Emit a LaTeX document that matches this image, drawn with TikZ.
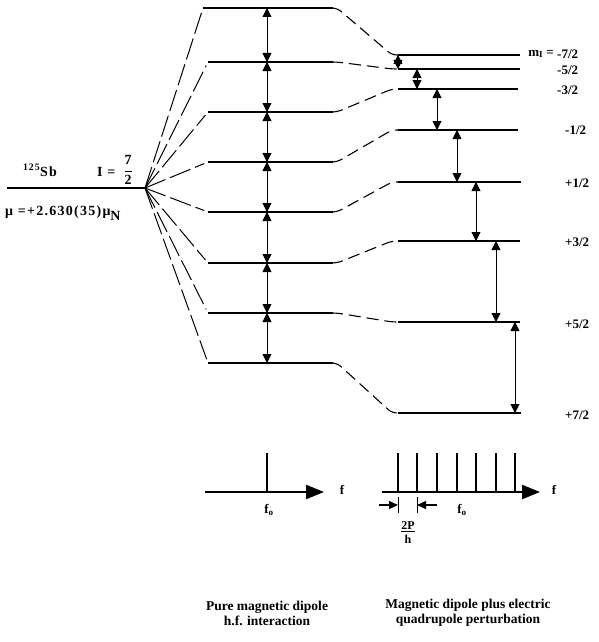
\documentclass[tikz,border=0pt]{standalone}
\usepackage{fontspec}
\setmainfont{Liberation Serif}
\newfontfamily\spaced[LetterSpace=9]{Liberation Serif}
\usetikzlibrary{arrows.meta}

\begin{document}
\begin{tikzpicture}[x=1pt, y=-1pt,
    lvl/.style={line width=2pt},
    fanLine/.style={line width=1pt, dash pattern=on 22pt off 5pt, shorten >=4pt},
    link/.style={line width=1.1pt, dash pattern=on 12pt off 6pt, rounded corners=5pt},
    trans/.style={line width=0.9pt, {Triangle[length=9pt,width=9pt]}-{Triangle[length=9pt,width=9pt]}},
    freqAxis/.style={line width=2.4pt, -{Triangle[length=18pt,width=14pt]}},
    peak/.style={line width=1.4pt},
    dimArrow/.style={line width=1.1pt, -{Triangle[length=9pt,width=8pt]}},
    lblM/.style={font=\fontsize{13}{13}\selectfont\bfseries, anchor=west, inner sep=0pt},
    lblF/.style={font=\fontsize{13}{13}\selectfont\bfseries, inner sep=0pt},
    lblNuc/.style={font=\fontsize{14}{14}\selectfont\spaced\bfseries, anchor=base west, inner sep=0pt},
    caption/.style={font=\fontsize{13.5}{15}\selectfont\bfseries, align=center}
  ]
  \useasboundingbox (0,0) rectangle (599,642);

  % --- free nucleus level ---
  \coordinate (i0) at (7,188);
  \coordinate (i1) at (145,188);
  \draw[lvl] (i0) -- (i1);
  \node[lblNuc] (nucl) at (23,176) {\textsuperscript{125}Sb};
  \node[lblNuc] (spin) at (97,176) {I =};
  \node[lblNuc, anchor=center] (spinVal) at (128,170) {$\displaystyle\frac{\mbox{7}}{\mbox{2}}$};
  \node[lblNuc] (moment) at (5,215) {μ =+2.630(35)μ\raisebox{-5pt}{N}};

  % --- pure magnetic dipole levels ---
  \coordinate (p1w) at (203,8);   \coordinate (p1e) at (333,8);
  \coordinate (p2w) at (208,62);  \coordinate (p2e) at (333,62);
  \coordinate (p3w) at (208,112); \coordinate (p3e) at (333,112);
  \coordinate (p4w) at (208,162); \coordinate (p4e) at (333,162);
  \coordinate (p5w) at (208,212); \coordinate (p5e) at (333,212);
  \coordinate (p6w) at (208,263); \coordinate (p6e) at (333,263);
  \coordinate (p7w) at (208,313); \coordinate (p7e) at (333,313);
  \coordinate (p8w) at (208,363); \coordinate (p8e) at (333,363);
  \draw[lvl] (p1w) -- (p1e);
  \draw[lvl] (p2w) -- (p2e);
  \draw[lvl] (p3w) -- (p3e);
  \draw[lvl] (p4w) -- (p4e);
  \draw[lvl] (p5w) -- (p5e);
  \draw[lvl] (p6w) -- (p6e);
  \draw[lvl] (p7w) -- (p7e);
  \draw[lvl] (p8w) -- (p8e);
  \draw[fanLine] (i1) -- (p1w);
  \draw[fanLine] (i1) -- (p2w);
  \draw[fanLine] (i1) -- (p3w);
  \draw[fanLine] (i1) -- (p4w);
  \draw[fanLine] (i1) -- (p5w);
  \draw[fanLine] (i1) -- (p6w);
  \draw[fanLine] (i1) -- (p7w);
  \draw[fanLine] (i1) -- (p8w);

  % --- quadrupole perturbed levels ---
  \coordinate (q1w) at (398,55);  \coordinate (q1e) at (520,55);
  \coordinate (q2w) at (398,69);  \coordinate (q2e) at (520,69);
  \coordinate (q3w) at (398,89);  \coordinate (q3e) at (518,89);
  \coordinate (q4w) at (398,130); \coordinate (q4e) at (518,130);
  \coordinate (q5w) at (398,182); \coordinate (q5e) at (521,182);
  \coordinate (q6w) at (398,241); \coordinate (q6e) at (520,241);
  \coordinate (q7w) at (398,322); \coordinate (q7e) at (520,322);
  \coordinate (q8w) at (398,413); \coordinate (q8e) at (521,413);
  \draw[lvl] (q1w) -- (q1e);
  \draw[lvl] (q2w) -- (q2e);
  \draw[lvl] (q3w) -- (q3e);
  \draw[lvl] (q4w) -- (q4e);
  \draw[lvl] (q5w) -- (q5e);
  \draw[lvl] (q6w) -- (q6e);
  \draw[lvl] (q7w) -- (q7e);
  \draw[lvl] (q8w) -- (q8e);
  \draw[link] (p1e) -- ([xshift=4pt]p1e) -- ([xshift=-6pt]q1w) -- (q1w);
  \draw[link] (p2e) -- ([xshift=4pt]p2e) -- ([xshift=-6pt]q2w) -- (q2w);
  \draw[link] (p3e) -- ([xshift=4pt]p3e) -- ([xshift=-6pt]q3w) -- (q3w);
  \draw[link] (p4e) -- ([xshift=4pt]p4e) -- ([xshift=-6pt]q4w) -- (q4w);
  \draw[link] (p5e) -- ([xshift=4pt]p5e) -- ([xshift=-6pt]q5w) -- (q5w);
  \draw[link] (p6e) -- ([xshift=4pt]p6e) -- ([xshift=-6pt]q6w) -- (q6w);
  \draw[link] (p7e) -- ([xshift=4pt]p7e) -- ([xshift=-6pt]q7w) -- (q7w);
  \draw[link] (p8e) -- ([xshift=4pt]p8e) -- ([xshift=-6pt]q8w) -- (q8w);
  \node[lblM, anchor=east] (mName) at (554,54) {m\textsubscript{I} =};
  \node[lblM] (m1) at (557,54) {-7/2};
  \node[lblM] (m2) at (557,70) {-5/2};
  \node[lblM] (m3) at (557,90) {-3/2};
  \node[lblM] (m4) at (565,130) {-1/2};
  \node[lblM] (m5) at (565,183) {+1/2};
  \node[lblM] (m6) at (565,242) {+3/2};
  \node[lblM] (m7) at (565,324) {+5/2};
  \node[lblM] (m8) at (565,415) {+7/2};

  % --- spectrum, pure dipole ---
  \coordinate (a0) at (205,492);
  \coordinate (a1) at (324,492);
  \coordinate (f0) at (267,453);
  \draw[freqAxis] (a0) -- (a1);
  \draw[peak] (f0) -- (f0 |- a0);
  \node[lblF] (fA) at (342,490) {f};
  \node[lblF] (fA0) at (269,510) {f\textsubscript{o}};
  \draw[trans] (f0 |- p1w) -- (f0 |- p2w);
  \draw[trans] (f0 |- p2w) -- (f0 |- p3w);
  \draw[trans] (f0 |- p3w) -- (f0 |- p4w);
  \draw[trans] (f0 |- p4w) -- (f0 |- p5w);
  \draw[trans] (f0 |- p5w) -- (f0 |- p6w);
  \draw[trans] (f0 |- p6w) -- (f0 |- p7w);
  \draw[trans] (f0 |- p7w) -- (f0 |- p8w);

  % --- spectrum, dipole plus quadrupole ---
  \coordinate (b0) at (382,492);
  \coordinate (b1) at (540,492);
  \coordinate (s1) at (398,453);
  \coordinate (s2) at (417,453);
  \coordinate (s3) at (437,453);
  \coordinate (s4) at (457,453);
  \coordinate (s5) at (476,453);
  \coordinate (s6) at (496,453);
  \coordinate (s7) at (515,453);
  \draw[freqAxis] (b0) -- (b1);
  \draw[peak] (s1) -- (s1 |- b0);
  \draw[peak] (s2) -- (s2 |- b0);
  \draw[peak] (s3) -- (s3 |- b0);
  \draw[peak] (s4) -- (s4 |- b0);
  \draw[peak] (s5) -- (s5 |- b0);
  \draw[peak] (s6) -- (s6 |- b0);
  \draw[peak] (s7) -- (s7 |- b0);
  \node[lblF] (fB) at (554,490) {f};
  \node[lblF] (fB0) at (462,510) {f\textsubscript{o}};
  \draw[trans] (s1 |- q1w) -- (s1 |- q2w);
  \draw[trans] (s2 |- q2w) -- (s2 |- q3w);
  \draw[trans] (s3 |- q3w) -- (s3 |- q4w);
  \draw[trans] (s4 |- q4w) -- (s4 |- q5w);
  \draw[trans] (s5 |- q5w) -- (s5 |- q6w);
  \draw[trans] (s6 |- q6w) -- (s6 |- q7w);
  \draw[trans] (s7 |- q7w) -- (s7 |- q8w);

  % --- line spacing 2P/h ---
  \coordinate (d1) at (398,505);
  \coordinate (d2) at (417,505);
  \coordinate (dA) at (379,505);
  \coordinate (dB) at (437,505);
  \draw[line width=0.9pt] ([yshift=8pt]d1) -- ([yshift=-8pt]d1);
  \draw[line width=0.9pt] ([yshift=8pt]d2) -- ([yshift=-8pt]d2);
  \draw[dimArrow] (dA) -- (d1);
  \draw[dimArrow] (dB) -- (d2);
  \node[lblF, align=center, font=\fontsize{12}{14}\selectfont\bfseries] (gap) at (408,533) {\underline{2P}\\h};

  % --- captions ---
  \node[caption] (capP) at (267,613) {Pure magnetic dipole\\h.f. interaction};
  \node[caption] (capQ) at (468,613) {Magnetic dipole plus electric\\quadrupole perturbation};
\end{tikzpicture}
\end{document}
